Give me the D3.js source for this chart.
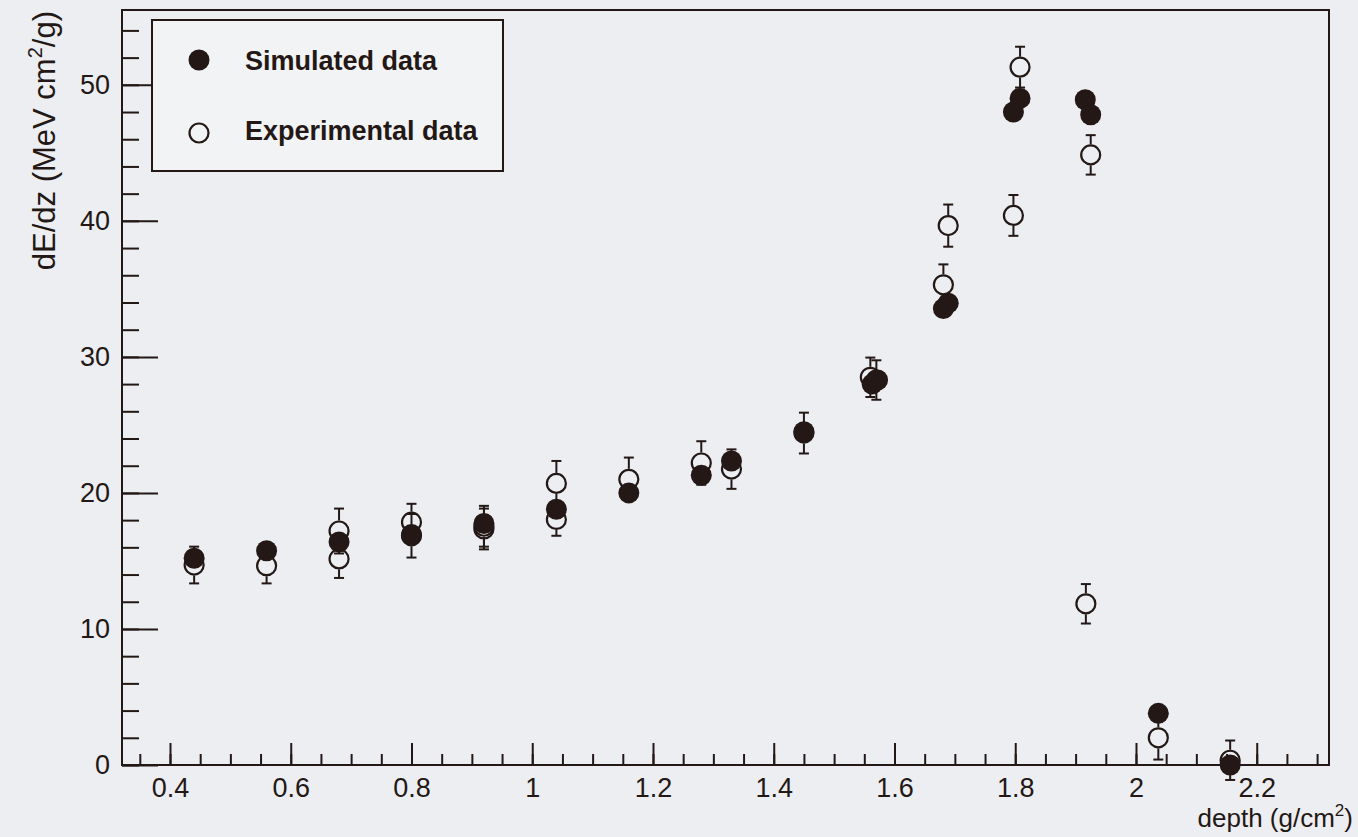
<!DOCTYPE html>
<html>
<head>
<meta charset="utf-8">
<script src="https://cdn.jsdelivr.net/npm/d3@7"></script>
<style>
  html, body { margin: 0; padding: 0; background: #eceef1; }
  svg { display: block; font-family: "Liberation Sans", Arial, Helvetica, sans-serif; }
</style>
</head>
<body>
<svg id="chart"></svg>
<script>
// Simulated data (filled markers): depth, dE/dz
let simX = [0.44, 0.56, 0.68, 0.80, 0.92, 1.04, 1.16, 1.28, 1.33, 1.45, 1.563, 1.572, 1.681, 1.689, 1.797, 1.808, 1.916, 1.925, 2.037, 2.156];
let simY = [15.2, 15.75, 16.4, 16.95, 17.75, 18.8, 20.0, 21.3, 22.35, 24.5, 28.0, 28.3, 33.55, 33.95, 48.0, 49.0, 48.9, 47.8, 3.8, 0.0];

// Experimental data (open markers): depth, dE/dz, error
let expX = [0.44, 0.56, 0.68, 0.68, 0.80, 0.80, 0.92, 0.92, 1.04, 1.04, 1.16, 1.28, 1.33, 1.45, 1.560, 1.570, 1.681, 1.689, 1.797, 1.808, 1.917, 1.925, 2.037, 2.156];
let expY = [14.7, 14.65, 17.2, 15.15, 17.85, 16.85, 17.55, 17.35, 20.7, 18.05, 21.0, 22.2, 21.75, 24.4, 28.5, 28.3, 35.3, 39.65, 40.4, 51.3, 11.85, 44.85, 2.0, 0.35];
let expErr = [1.35, 1.3, 1.65, 1.4, 1.35, 1.6, 1.5, 1.5, 1.65, 1.2, 1.6, 1.6, 1.45, 1.5, 1.45, 1.45, 1.5, 1.55, 1.5, 1.5, 1.45, 1.45, 1.6, 1.45];

let xMajor = [0.4, 0.6, 0.8, 1.0, 1.2, 1.4, 1.6, 1.8, 2.0, 2.2];
let xMinor = d3.range(0.35, 2.31, 0.05).map(d => +d.toFixed(2));
let yMajor = [0, 10, 20, 30, 40, 50];
let yMinor = d3.range(0, 55, 2);

let legendLabels = ["Simulated data", "Experimental data"];

let ink = "#231815";
let width = 1358, height = 837;
let padL = 122, padR = 1329, padT = 10, padB = 765;

let svg = d3.select("#chart").attr("width", width).attr("height", height);

svg.append("rect").attr("width", width).attr("height", height).attr("fill", "#eceef1");

let xax = d3.scaleLinear().domain([0.3205, 2.3197]).range([padL, padR]);
let yax = d3.scaleLinear().domain([0, 55.5]).range([padB, padT]);

// minor ticks
svg.append("g")
  .attr("transform", `translate(0, ${padB})`)
  .call(d3.axisBottom(xax).tickValues(xMinor).tickSize(-11).tickFormat(""))
  .call(g => g.select(".domain").remove())
  .call(g => g.selectAll("line").attr("stroke", ink).attr("stroke-width", 2));
svg.append("g")
  .attr("transform", `translate(${padL}, 0)`)
  .call(d3.axisLeft(yax).tickValues(yMinor).tickSize(-17).tickFormat(""))
  .call(g => g.select(".domain").remove())
  .call(g => g.selectAll("line").attr("stroke", ink).attr("stroke-width", 2));

// major ticks + labels
svg.append("g")
  .attr("transform", `translate(0, ${padB})`)
  .call(d3.axisBottom(xax).tickValues(xMajor).tickSize(-22).tickPadding(13).tickFormat(d3.format("~g")))
  .call(g => g.select(".domain").remove())
  .call(g => g.selectAll("line").attr("stroke", ink).attr("stroke-width", 2))
  .call(g => g.selectAll("text").attr("fill", ink).attr("font-size", 27).attr("font-family", "Liberation Sans, Arial, sans-serif"));
svg.append("g")
  .attr("transform", `translate(${padL}, 0)`)
  .call(d3.axisLeft(yax).tickValues(yMajor).tickSize(-36).tickPadding(12))
  .call(g => g.select(".domain").remove())
  .call(g => g.selectAll("line").attr("stroke", ink).attr("stroke-width", 2))
  .call(g => g.selectAll("text").attr("fill", ink).attr("font-size", 27).attr("font-family", "Liberation Sans, Arial, sans-serif"));

// frame
svg.append("rect")
  .attr("x", padL).attr("y", padT)
  .attr("width", padR - padL).attr("height", padB - padT)
  .attr("fill", "none").attr("stroke", ink).attr("stroke-width", 2);

// axis titles
let xt = svg.append("text")
  .attr("x", 1353).attr("y", 827)
  .attr("text-anchor", "end")
  .attr("font-size", 26)
  .attr("fill", ink);
xt.append("tspan").text("depth (g/cm");
xt.append("tspan").text("2").attr("font-size", 17).attr("dy", -11);
xt.append("tspan").text(")").attr("dy", 11);

let yt = svg.append("text")
  .attr("transform", "rotate(-90)")
  .attr("x", -11).attr("y", 55)
  .attr("text-anchor", "end")
  .attr("font-size", 31)
  .attr("fill", ink);
yt.append("tspan").text("dE/dz (MeV cm");
yt.append("tspan").text("2").attr("font-size", 20).attr("dy", -13);
yt.append("tspan").text("/g)").attr("dy", 13);

// experimental points with error bars
let r = 10.5;
let expData = expX.map((x, i) => ({x: x, y: expY[i], e: expErr[i]}));
let simData = simX.map((x, i) => ({x: x, y: simY[i]}));

let eg = svg.append("g").attr("stroke", ink).attr("stroke-width", 2);
expData.forEach(d => {
  let cx = xax(d.x), cy = yax(d.y);
  let hi = yax(d.y + d.e), lo = yax(d.y - d.e);
  if (cy - hi > r) eg.append("line").attr("x1", cx).attr("x2", cx).attr("y1", cy - r).attr("y2", hi);
  if (lo - cy > r) eg.append("line").attr("x1", cx).attr("x2", cx).attr("y1", cy + r).attr("y2", lo);
  eg.append("line").attr("x1", cx - 5).attr("x2", cx + 5).attr("y1", hi).attr("y2", hi);
  eg.append("line").attr("x1", cx - 5).attr("x2", cx + 5).attr("y1", lo).attr("y2", lo);
});
svg.append("g")
  .selectAll("circle")
  .data(expData)
  .join("circle")
    .attr("cx", d => xax(d.x))
    .attr("cy", d => yax(d.y))
    .attr("r", r - 1)
    .attr("fill", "none")
    .attr("stroke", ink)
    .attr("stroke-width", 2.2);

svg.append("g")
  .selectAll("circle")
  .data(simData)
  .join("circle")
    .attr("cx", d => xax(d.x))
    .attr("cy", d => yax(d.y))
    .attr("r", r)
    .attr("fill", ink);

// legend
let lg = svg.append("g");
lg.append("rect")
  .attr("x", 152).attr("y", 20)
  .attr("width", 351).attr("height", 151)
  .attr("fill", "#f2f3f4")
  .attr("stroke", ink).attr("stroke-width", 2);
lg.append("circle").attr("cx", 199).attr("cy", 60).attr("r", r).attr("fill", ink);
lg.append("circle").attr("cx", 199).attr("cy", 133).attr("r", r - 1)
  .attr("fill", "none").attr("stroke", ink).attr("stroke-width", 2.2);
lg.selectAll("text.lab")
  .data(legendLabels)
  .join("text")
    .attr("class", "lab")
    .attr("x", 245)
    .attr("y", (d, i) => i == 0 ? 70 : 140)
    .attr("font-size", 27)
    .attr("font-weight", "bold")
    .attr("fill", ink)
    .text(d => d);
</script>
</body>
</html>
